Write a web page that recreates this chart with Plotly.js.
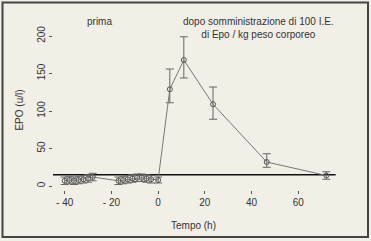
<!DOCTYPE html>
<html><head><meta charset="utf-8">
<script src="https://cdn.plot.ly/plotly-3.0.1.min.js"></script>
<style>html,body{margin:0;padding:0;background:#f2efe7;}#c{width:371px;height:241px;}</style>
</head><body><div id="c"></div>
<script>
const timeH = [-40,-38,-36,-34,-32,-30,-28,-17,-15,-13,-11,-9,-7,-5,-3,0,5,11,23.5,46.5,72];
const epoUL = [7,8,7,8,9,10,12,7,8,9,10,11,11,10,9,8,129,168,109,32,14];
const errPlus = [5,5,5,5,5,5,5,5,5,5,5,5,5,5,5,4,27,31,23,11,5];
const errMinus = [5,5,5,5,5,5,5,5,5,5,5,5,5,5,5,4,18,24,20,7,5];
const refX = [-45,76];
const refY = [15,15];
const xTickVals = [-40,-20,0,20,40,60];
const xTickText = ['- 40','- 20','0','20','40','60'];
const yTickVals = [0,50,100,150,200];
const labelPrima = 'prima';
const labelDopo = 'dopo somministrazione di 100 I.E.<br>di Epo / kg peso corporeo';
const xTitle = 'Tempo (h)';
const yTitle = 'EPO (u/l)';

const font = {family:'Liberation Sans, Arial, sans-serif', size:10, color:'#333'};
const traces = [
  {x:refX, y:refY, mode:'lines', line:{color:'#111', width:1.3}, hoverinfo:'skip', showlegend:false},
  {x:timeH, y:epoUL, mode:'lines+markers',
   line:{color:'#777', width:1},
   marker:{symbol:'circle-open', size:5, color:'#555', line:{width:1}},
   error_y:{type:'data', symmetric:false, array:errPlus, arrayminus:errMinus, color:'#666', thickness:1, width:4},
   showlegend:false}
];
const layout = {
  width:371, height:241,
  margin:{l:53, r:26, t:30, b:51},
  paper_bgcolor:'#f2efe7', plot_bgcolor:'#f2efe7',
  font:font,
  showlegend:false,
  xaxis:{range:[-45,80], showgrid:false, zeroline:false, showline:false,
    ticks:'outside', ticklen:3, tickcolor:'#555', tickvals:xTickVals, ticktext:xTickText, tickfont:font},
  yaxis:{range:[-5.3,208], showgrid:false, zeroline:false, showline:false,
    ticks:'outside', ticklen:3, tickcolor:'#555', tickvals:yTickVals, tickangle:-90, tickfont:font,
    title:{text:yTitle, font:font, standoff:10}},
  annotations:[
    {text:labelPrima, xref:'paper', yref:'paper', x:(99-53)/292, y:(190-22)/160, showarrow:false, font:font, xanchor:'center', yanchor:'middle'},
    {text:labelDopo, xref:'paper', yref:'paper', x:(258-53)/292, y:(190-28)/160, showarrow:false, font:font, xanchor:'center', yanchor:'middle', align:'center'},
    {text:xTitle, xref:'paper', yref:'paper', x:(193-53)/292, y:(190-225)/160, showarrow:false, font:font, xanchor:'center', yanchor:'middle'}
  ],
  shapes:[
    {type:'rect', xref:'paper', yref:'paper', x0:(2.5-53)/292, x1:(368-53)/292, y0:(190-237)/160, y1:(190-2.5)/160,
     line:{color:'#444', width:2}, fillcolor:'rgba(0,0,0,0)'}
  ]
};
Plotly.newPlot('c', traces, layout, {staticPlot:true, displayModeBar:false});
</script></body></html>
